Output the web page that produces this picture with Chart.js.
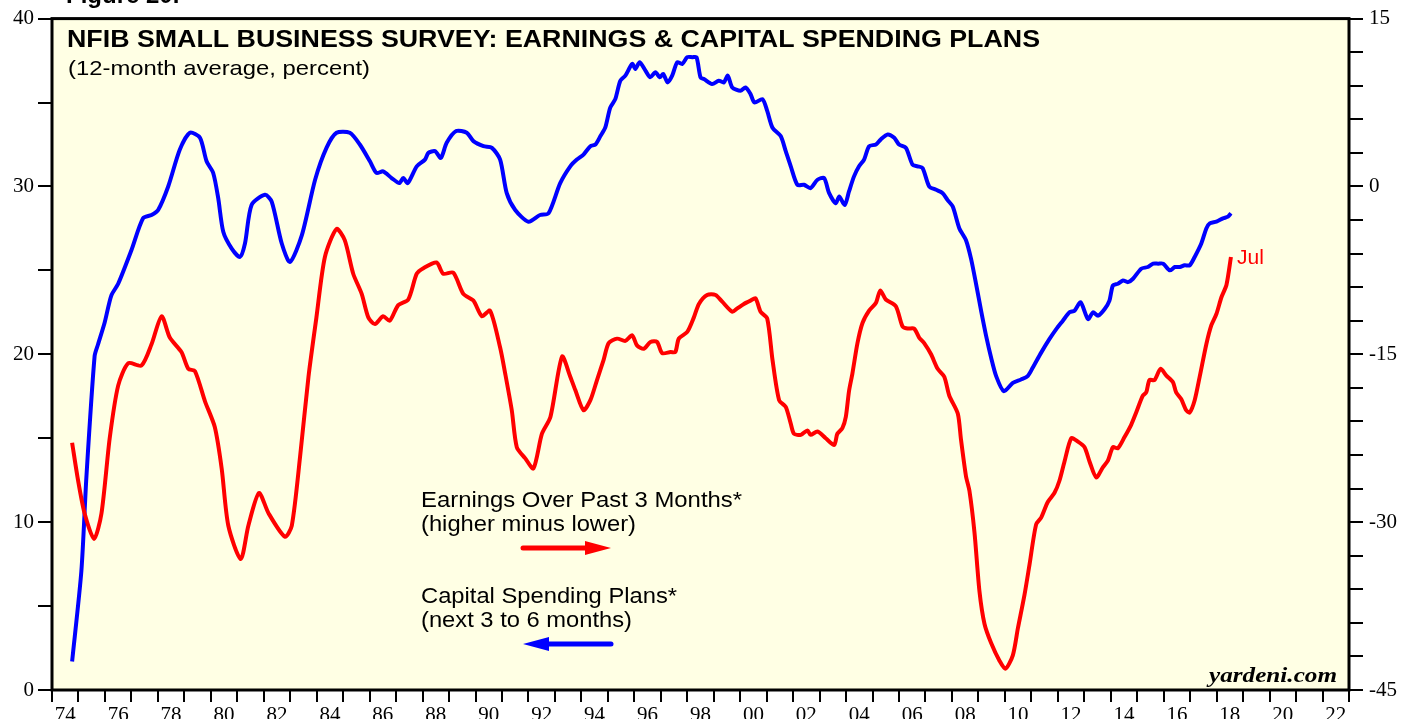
<!DOCTYPE html>
<html>
<head>
<meta charset="utf-8">
<title>NFIB Small Business Survey</title>
<script src="https://cdn.jsdelivr.net/npm/chart.js@4.4.1/dist/chart.umd.min.js"></script>
<style>
  html, body { margin: 0; padding: 0; background: #fff; }
  canvas { display: block; }
</style>
</head>
<body>
<canvas id="chartNfib" width="1403" height="719"></canvas>
<script>
// Capital spending plans (left axis, percent)
const capexYears = [
  1974.76, 1975.11, 1975.30, 1975.61, 1975.74, 1975.99, 1976.24, 1976.50, 1977.00, 1977.44,
  1977.76, 1978.01, 1978.39, 1978.83, 1979.21, 1979.59, 1979.84, 1980.09, 1980.28, 1980.47,
  1980.79, 1981.10, 1981.29, 1981.54, 1982.05, 1982.30, 1982.68, 1982.99, 1983.44, 1983.94,
  1984.37, 1984.75, 1985.25, 1985.63, 1986.01, 1986.26, 1986.51, 1986.83, 1987.12, 1987.27,
  1987.44, 1987.78, 1988.09, 1988.22, 1988.47, 1988.69, 1988.91, 1989.27, 1989.67, 1989.92,
  1990.30, 1990.62, 1990.93, 1991.18, 1991.50, 1992.00, 1992.44, 1992.76, 1993.20, 1993.58,
  1993.83, 1994.08, 1994.34, 1994.53, 1994.72, 1994.90, 1995.09, 1995.28, 1995.47, 1995.66,
  1995.92, 1996.04, 1996.20, 1996.42, 1996.60, 1996.80, 1996.96, 1997.09, 1997.26, 1997.43,
  1997.62, 1997.81, 1998.00, 1998.19, 1998.35, 1998.50, 1998.63, 1998.94, 1999.19, 1999.38,
  1999.53, 1999.70, 2000.01, 2000.20, 2000.39, 2000.54, 2000.84, 2001.02, 2001.22, 2001.53,
  2001.72, 2001.91, 2002.16, 2002.41, 2002.66, 2002.92, 2003.17, 2003.36, 2003.61, 2003.74,
  2003.95, 2004.11, 2004.30, 2004.49, 2004.68, 2004.87, 2005.13, 2005.31, 2005.57, 2005.82,
  2006.00, 2006.26, 2006.51, 2006.70, 2006.89, 2007.14, 2007.40, 2007.65, 2007.83, 2008.03,
  2008.28, 2008.53, 2008.72, 2008.91, 2009.10, 2009.29, 2009.48, 2009.67, 2009.96, 2010.30,
  2010.61, 2010.86, 2011.05, 2011.37, 2011.68, 2011.94, 2012.19, 2012.44, 2012.63, 2012.86,
  2013.14, 2013.33, 2013.52, 2013.77, 2013.95, 2014.08, 2014.27, 2014.46, 2014.65, 2014.84,
  2015.15, 2015.40, 2015.60, 2015.79, 2015.98, 2016.23, 2016.42, 2016.61, 2016.79, 2016.98,
  2017.17, 2017.42, 2017.61, 2017.74, 2017.99, 2018.24, 2018.43, 2018.54
];
const capexValues = [
  1.7, 7.1, 12.7, 19.9, 20.6, 21.9, 23.5, 24.2, 26.2, 28.1,
  28.3, 28.6, 30.0, 32.2, 33.2, 32.9, 31.5, 30.8, 29.3, 27.3,
  26.3, 25.8, 26.6, 28.9, 29.5, 29.1, 26.6, 25.5, 27.1, 30.4,
  32.3, 33.2, 33.2, 32.5, 31.5, 30.8, 30.9, 30.5, 30.2, 30.5,
  30.2, 31.2, 31.6, 32.0, 32.1, 31.7, 32.6, 33.3, 33.2, 32.7,
  32.4, 32.3, 31.6, 29.6, 28.6, 27.9, 28.3, 28.4, 30.2, 31.2,
  31.6, 31.9, 32.4, 32.5, 33.0, 33.5, 34.7, 35.2, 36.3, 36.6,
  37.3, 37.0, 37.4, 36.9, 36.5, 36.8, 36.5, 36.7, 36.2, 36.6,
  37.4, 37.3, 37.7, 37.7, 37.7, 36.5, 36.4, 36.1, 36.3, 36.2,
  36.6, 35.9, 35.7, 35.9, 35.5, 35.0, 35.2, 34.5, 33.5, 33.0,
  32.1, 31.2, 30.1, 30.1, 29.9, 30.4, 30.5, 29.6, 29.0, 29.4,
  28.9, 29.7, 30.6, 31.2, 31.6, 32.4, 32.5, 32.8, 33.1, 32.9,
  32.5, 32.3, 31.3, 31.2, 31.1, 30.0, 29.8, 29.6, 29.2, 28.8,
  27.5, 26.8, 25.7, 24.2, 22.6, 21.1, 19.8, 18.7, 17.8, 18.3,
  18.5, 18.7, 19.2, 20.1, 20.9, 21.5, 22.0, 22.5, 22.6, 23.1,
  22.1, 22.5, 22.3, 22.7, 23.2, 24.1, 24.2, 24.4, 24.3, 24.5,
  25.1, 25.2, 25.4, 25.4, 25.4, 25.0, 25.2, 25.2, 25.3, 25.3,
  25.8, 26.6, 27.5, 27.8, 27.9, 28.1, 28.2, 28.4
];

// Earnings over past 3 months, higher minus lower (right axis)
const earnYears = [
  1974.76, 1974.98, 1975.23, 1975.59, 1975.87, 1976.18, 1976.50, 1976.88, 1977.38, 1977.76,
  1978.14, 1978.45, 1978.89, 1979.15, 1979.40, 1979.78, 1980.15, 1980.41, 1980.66, 1981.13,
  1981.42, 1981.82, 1982.18, 1982.80, 1983.06, 1983.37, 1983.69, 1983.99, 1984.31, 1984.75,
  1985.06, 1985.38, 1985.70, 1985.95, 1986.20, 1986.51, 1986.76, 1987.08, 1987.46, 1987.78,
  1988.03, 1988.53, 1988.78, 1989.16, 1989.54, 1989.92, 1990.24, 1990.55, 1990.93, 1991.12,
  1991.37, 1991.56, 1991.88, 1992.19, 1992.51, 1992.83, 1993.27, 1993.58, 1993.77, 1994.08,
  1994.34, 1994.59, 1994.84, 1995.03, 1995.35, 1995.66, 1995.92, 1996.10, 1996.36, 1996.61,
  1996.86, 1997.05, 1997.37, 1997.55, 1997.68, 1998.00, 1998.25, 1998.44, 1998.75, 1999.07,
  1999.32, 1999.70, 1999.89, 2000.14, 2000.39, 2000.58, 2000.77, 2001.02, 2001.22, 2001.47,
  2001.72, 2001.91, 2002.03, 2002.29, 2002.54, 2002.66, 2002.92, 2003.23, 2003.55, 2003.67,
  2003.86, 2003.99, 2004.11, 2004.24, 2004.43, 2004.62, 2004.87, 2005.13, 2005.29, 2005.50,
  2005.88, 2006.13, 2006.32, 2006.57, 2006.76, 2006.95, 2007.21, 2007.46, 2007.71, 2007.90,
  2008.22, 2008.34, 2008.53, 2008.66, 2008.85, 2009.04, 2009.23, 2009.48, 2009.80, 2010.02,
  2010.30, 2010.49, 2010.74, 2010.93, 2011.18, 2011.37, 2011.62, 2011.87, 2012.06, 2012.25,
  2012.51, 2012.76, 2013.01, 2013.20, 2013.45, 2013.70, 2013.89, 2014.08, 2014.27, 2014.52,
  2014.77, 2014.96, 2015.21, 2015.34, 2015.46, 2015.65, 2015.88, 2016.10, 2016.35, 2016.47,
  2016.66, 2016.85, 2016.98, 2017.17, 2017.36, 2017.61, 2017.80, 2017.99, 2018.18, 2018.37,
  2018.54
];
const earnValues = [
  -22.9, -26.2, -29.2, -31.5, -29.2, -22.5, -17.8, -15.8, -16.0, -14.1,
  -11.6, -13.5, -14.8, -16.3, -16.5, -19.2, -21.5, -25.2, -30.3, -33.3,
  -30.3, -27.4, -29.2, -31.3, -30.3, -24.2, -17.0, -11.7, -6.3, -3.8,
  -4.8, -7.8, -9.6, -11.7, -12.3, -11.6, -12.0, -10.6, -10.1, -7.8,
  -7.3, -6.8, -7.8, -7.7, -9.6, -10.2, -11.6, -11.1, -14.4, -16.7,
  -20.0, -23.3, -24.3, -25.2, -22.1, -20.6, -15.2, -17.0, -18.2, -20.0,
  -19.1, -17.3, -15.5, -14.0, -13.6, -13.8, -13.3, -14.2, -14.5, -13.9,
  -13.9, -14.9, -14.8, -14.8, -13.6, -13.0, -11.7, -10.5, -9.7, -9.7,
  -10.3, -11.2, -10.9, -10.5, -10.2, -10.0, -11.2, -11.8, -15.5, -19.1,
  -19.7, -21.2, -22.1, -22.2, -21.8, -22.2, -21.9, -22.5, -23.1, -22.1,
  -21.6, -20.6, -18.3, -16.7, -14.0, -12.2, -11.1, -10.4, -9.3, -10.1,
  -10.7, -12.5, -12.7, -12.7, -13.5, -14.0, -15.0, -16.3, -17.0, -18.7,
  -20.3, -22.6, -25.9, -27.2, -30.9, -36.2, -39.1, -40.8, -42.4, -43.1,
  -41.9, -39.5, -36.5, -33.8, -30.2, -29.6, -28.2, -27.4, -26.3, -24.6,
  -22.5, -22.8, -23.3, -24.6, -26.0, -25.1, -24.5, -23.3, -23.4, -22.4,
  -21.3, -20.2, -18.7, -18.4, -17.3, -17.3, -16.3, -16.9, -17.5, -18.4,
  -19.0, -20.0, -20.2, -19.1, -17.0, -14.1, -12.4, -11.4, -9.9, -8.8,
  -6.3
];

// axes
const yearMin = 1974;
const yearMax = 2023;
const leftMin = 0, leftMax = 40, leftStep = 5, leftLabelEvery = 10;
const rightMin = -45, rightMax = 15, rightStep = 3, rightLabelEvery = 15;
const lastLabel = "Jul";

const SANS = "'Liberation Sans', Arial, Helvetica, sans-serif";
const SERIF = "'Liberation Serif', 'Times New Roman', serif";

function toPoints(xs, ys) {
  return xs.map((x, i) => ({ x, y: ys[i] }));
}

// texto ajustado a un ancho dado (la fuente original es algo más ancha)
function fitText(ctx, text, x, y, font, width, align) {
  ctx.save();
  ctx.font = font;
  const w = ctx.measureText(text).width;
  const sx = width ? width / w : 1;
  ctx.translate(align === "right" ? x - w * sx : x, y);
  ctx.scale(sx, 1);
  ctx.textAlign = "left";
  ctx.textBaseline = "alphabetic";
  ctx.fillText(text, 0, 0);
  ctx.restore();
}

function arrow(ctx, x1, x2, y, color, pointRight) {
  const head = 26, half = 7;
  ctx.save();
  ctx.strokeStyle = color;
  ctx.fillStyle = color;
  ctx.lineWidth = 5;
  ctx.lineCap = "round";
  ctx.beginPath();
  if (pointRight) {
    ctx.moveTo(x1, y); ctx.lineTo(x2 - head + 4, y);
  } else {
    ctx.moveTo(x2, y); ctx.lineTo(x1 + head - 4, y);
  }
  ctx.stroke();
  ctx.beginPath();
  if (pointRight) {
    ctx.moveTo(x2, y); ctx.lineTo(x2 - head, y - half); ctx.lineTo(x2 - head, y + half);
  } else {
    ctx.moveTo(x1, y); ctx.lineTo(x1 + head, y - half); ctx.lineTo(x1 + head, y + half);
  }
  ctx.closePath();
  ctx.fill();
  ctx.restore();
}

const framePlugin = {
  id: "frame",
  beforeDraw(chart) {
    const { ctx, chartArea: a } = chart;
    ctx.save();
    ctx.fillStyle = "#ffffff";
    ctx.fillRect(0, 0, chart.width, chart.height);
    ctx.fillStyle = "#ffffe4";
    ctx.fillRect(a.left, a.top, a.right - a.left, a.bottom - a.top);
    ctx.restore();
  },
  afterDatasetsDraw(chart) {
    const { ctx, chartArea: a } = chart;
    ctx.save();
    ctx.strokeStyle = "#000";
    ctx.lineWidth = 3;
    ctx.strokeRect(a.left, a.top, a.right - a.left, a.bottom - a.top);
    ctx.restore();
  },
};

const notesPlugin = {
  id: "notes",
  afterDraw(chart) {
    const { ctx } = chart;
    ctx.save();
    ctx.fillStyle = "#000";
    fitText(ctx, "Figure 20.", 66, 3, "bold 24px " + SANS, 0);
    fitText(ctx, "NFIB SMALL BUSINESS SURVEY: EARNINGS & CAPITAL SPENDING PLANS", 67, 47, "bold 24px " + SANS, 973);
    fitText(ctx, "(12-month average, percent)", 68, 75, "21px " + SANS, 302);
    fitText(ctx, "Earnings Over Past 3 Months*", 421, 507, "22px " + SANS, 321);
    fitText(ctx, "(higher minus lower)", 421, 531, "22px " + SANS, 215);
    fitText(ctx, "Capital Spending Plans*", 421, 603, "22px " + SANS, 256);
    fitText(ctx, "(next 3 to 6 months)", 421, 627, "22px " + SANS, 211);
    fitText(ctx, "yardeni.com", 1337, 682, "italic bold 22px " + SERIF, 128, "right");
    arrow(ctx, 523, 611, 548, "#ff0000", true);
    arrow(ctx, 523, 611, 644, "#0000ff", false);

    // etiqueta del último dato
    const xs = chart.scales.x, ys = chart.scales.y2;
    const lx = xs.getPixelForValue(earnYears[earnYears.length - 1]) + 6;
    const ly = ys.getPixelForValue(earnValues[earnValues.length - 1]) + 7;
    ctx.fillStyle = "#ff0000";
    fitText(ctx, lastLabel, lx, ly, "21px " + SANS, 0);
    ctx.restore();
  },
};

const tickFont = { family: SERIF, size: 21 };

const ctxNfib = document.getElementById("chartNfib");
new Chart(ctxNfib, {
  type: "line",
  data: {
    datasets: [
      {
        label: "Earnings Over Past 3 Months",
        data: toPoints(earnYears, earnValues),
        yAxisID: "y2",
        borderColor: "#ff0000",
        borderWidth: 4,
        pointRadius: 0,
        tension: 0.25,
      },
      {
        label: "Capital Spending Plans",
        data: toPoints(capexYears, capexValues),
        yAxisID: "y",
        borderColor: "#0000ff",
        borderWidth: 4,
        pointRadius: 0,
        tension: 0.25,
      },
    ],
  },
  options: {
    responsive: false,
    animation: false,
    layout: { padding: { top: 18, left: 0, right: 0, bottom: 0 } },
    plugins: {
      legend: { display: false },
      tooltip: { enabled: false },
      title: { display: false },
    },
    scales: {
      x: {
        type: "linear",
        min: yearMin,
        max: yearMax,
        border: { display: false },
        grid: { drawOnChartArea: false, drawTicks: true, tickLength: 12, tickColor: "#000", lineWidth: 2 },
        ticks: {
          stepSize: 1,
          autoSkip: false,
          maxRotation: 0,
          labelOffset: 13.2,
          padding: 1,
          color: "#000",
          font: tickFont,
          callback: (v) => (v % 2 === 0 ? String(v % 100).padStart(2, "0") : ""),
        },
        afterFit: (s) => { s.height = 29; },
      },
      y: {
        position: "left",
        min: leftMin,
        max: leftMax,
        border: { display: false },
        grid: { drawOnChartArea: false, drawTicks: true, tickLength: 14, tickColor: "#000", lineWidth: 2 },
        ticks: {
          stepSize: leftStep,
          autoSkip: false,
          padding: 4,
          color: "#000",
          font: tickFont,
          callback: (v) => (v % leftLabelEvery === 0 ? String(v) : ""),
        },
        afterFit: (s) => { s.width = 52; },
      },
      y2: {
        position: "right",
        min: rightMin,
        max: rightMax,
        border: { display: false },
        grid: { drawOnChartArea: false, drawTicks: true, tickLength: 14, tickColor: "#000", lineWidth: 2 },
        ticks: {
          stepSize: rightStep,
          autoSkip: false,
          padding: 6,
          color: "#000",
          font: tickFont,
          callback: (v) => (v % rightLabelEvery === 0 ? String(v) : ""),
        },
        afterFit: (s) => { s.width = 54; },
      },
    },
  },
  plugins: [framePlugin, notesPlugin],
});
</script>
</body>
</html>
